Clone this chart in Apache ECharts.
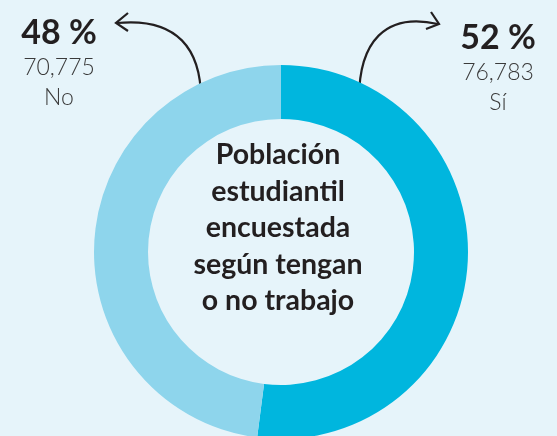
<!DOCTYPE html>
<html><head><meta charset="utf-8">
<style>html,body{margin:0;padding:0;background:#e6f4fa;}#c{width:557px;height:436px;}</style>
<script src="https://cdn.jsdelivr.net/npm/echarts@6/dist/echarts.min.js"></script>
</head><body><div id="c"></div>
<script>
const categories = ["Sí", "No"];
const values = [76783, 70775];
const countLabels = ["76,783", "70,775"];
const percents = [52, 48];
const colors = ["#00b6de", "#8ed5ec"];
const centerTitle = ["Población", "estudiantil", "encuestada", "según tengan", "o no trabajo"];

const chart = echarts.init(document.getElementById('c'));
const pctFont = {fontFamily: 'Lato', fontWeight: 'bold', fontSize: 34, fill: '#231f20'};
const subFont = {fontFamily: 'Lato', fontWeight: 300, fontSize: 23, fill: '#3a3a3a'};
const lineStyle = {stroke: '#231f20', lineWidth: 2.2, fill: 'none'};

const graphics = [
  {type: 'text', x: 278, y: 137, style: {
    text: centerTitle.join('\n'), textAlign: 'center', fontFamily: 'Lato', fontWeight: 'bold',
    fontSize: 28.5, lineHeight: 36.5, fill: '#231f20'}},
  {type: 'bezierCurve', shape: {x1: 201, y1: 99, cpx1: 201, cpy1: 50, cpx2: 178, cpy2: 17, x2: 117, y2: 23}, style: lineStyle},
  {type: 'polyline', shape: {points: [[128, 13], [116, 23], [128, 31]]}, style: lineStyle},
  {type: 'bezierCurve', shape: {x1: 359, y1: 99, cpx1: 359, cpy1: 42, cpx2: 385, cpy2: 12, x2: 438, y2: 24}, style: lineStyle},
  {type: 'polyline', shape: {points: [[431, 12], [439, 24], [426, 29]]}, style: lineStyle}
];
// label blocks: [data index, centre x, top y]
[[1, 59, 16], [0, 498, 21]].forEach(([i, x, y]) => {
  graphics.push({type: 'text', x: x, y: y, style: Object.assign({text: percents[i] + ' %', textAlign: 'center'}, pctFont)});
  graphics.push({type: 'text', x: x, y: y + 40, style: Object.assign({text: countLabels[i], textAlign: 'center'}, subFont)});
  graphics.push({type: 'text', x: x, y: y + 70, style: Object.assign({text: categories[i], textAlign: 'center'}, subFont)});
});

chart.setOption({
  backgroundColor: '#e6f4fa',
  animation: false,
  series: [{
    type: 'pie',
    center: [281, 252],
    radius: [133, 187],
    startAngle: 90,
    clockwise: true,
    label: {show: false},
    labelLine: {show: false},
    emphasis: {disabled: true},
    itemStyle: {borderWidth: 0},
    data: categories.map((c, i) => ({name: c, value: values[i], itemStyle: {color: colors[i]}}))
  }],
  graphic: graphics
});
</script></body></html>
